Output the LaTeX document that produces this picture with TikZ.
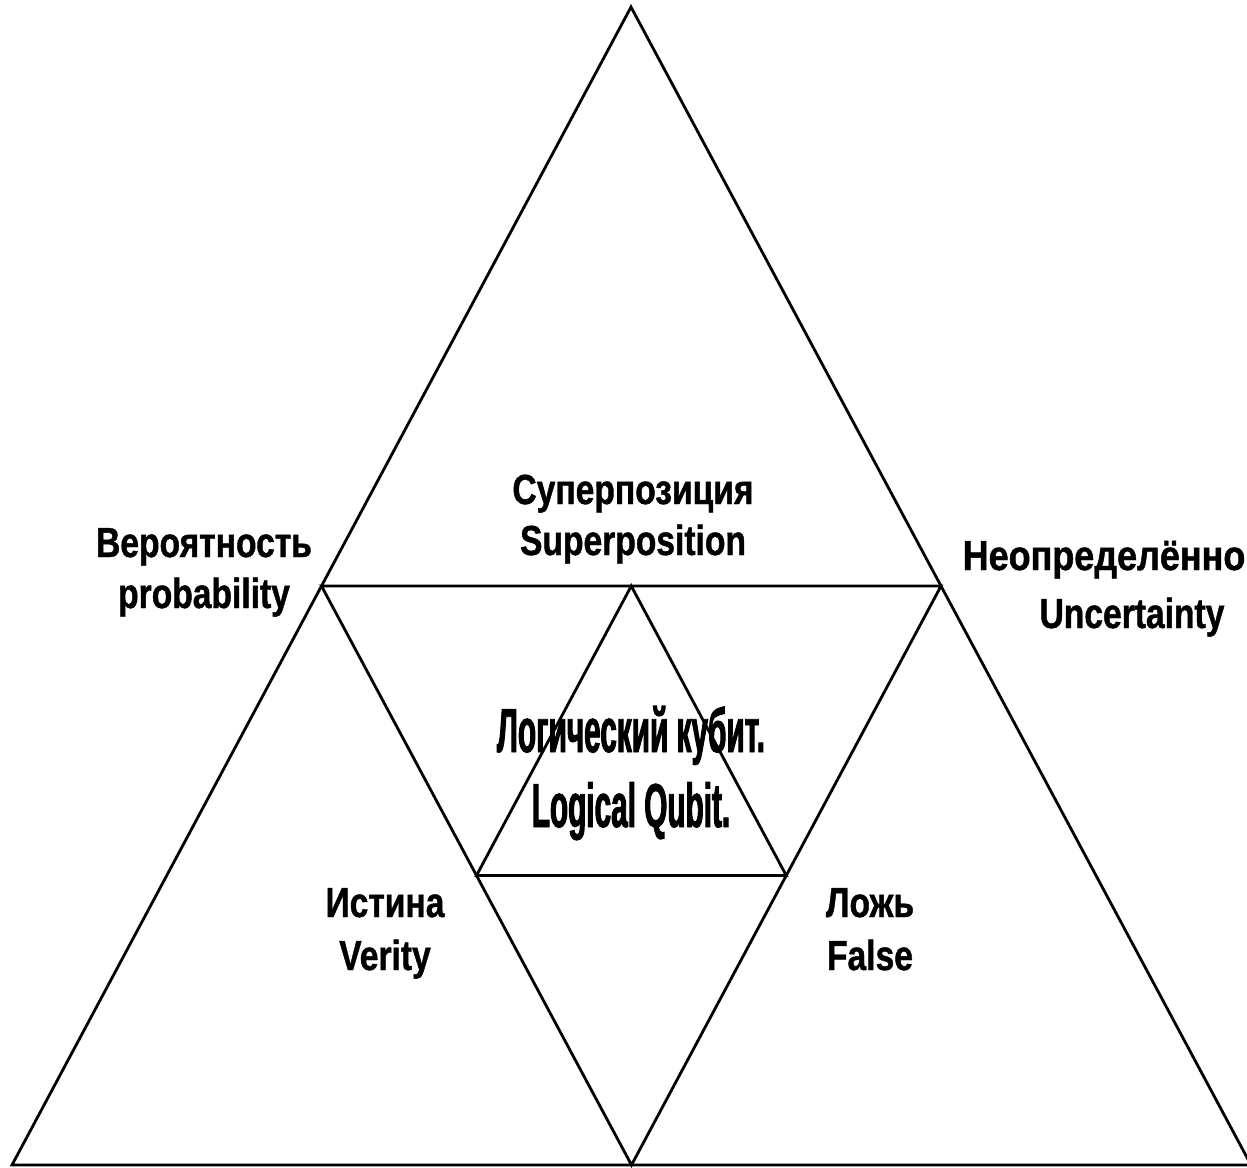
\documentclass[tikz,border=0pt]{standalone}
\usepackage{fontspec}
\setmainfont{Liberation Sans}[FakeStretch=0.8,FakeBold=1]
\newfontfamily\condfont{Liberation Sans}[FakeStretch=0.48,FakeBold=1.5]
\usetikzlibrary{calc}

\begin{document}
\begin{tikzpicture}[x=1pt,y=-1pt,line width=2.8pt,
  lbl/.style={font=\fontsize{42}{51}\selectfont\bfseries,align=center,inner sep=0pt,anchor=base},
  lblline/.style={font=\fontsize{42}{51}\selectfont\bfseries,inner sep=0pt,anchor=base}]
  \useasboundingbox (0,0) rectangle (1247,1167);
  % outer triangle
  \coordinate (top) at (631,7);
  \coordinate (bl) at (12,1165);
  \coordinate (br) at (1251,1165);
  \draw (top) -- (bl) -- (br) -- cycle;
  % middle (inverted) triangle
  \coordinate (ml) at ($(top)!0.5!(bl)$);
  \coordinate (mr) at ($(top)!0.5!(br)$);
  \coordinate (mb) at ($(bl)!0.5!(br)$);
  \draw (ml) -- (mr) -- (mb) -- cycle;
  % inner triangle
  \coordinate (it) at ($(ml)!0.5!(mr)$);
  \coordinate (il) at ($(ml)!0.5!(mb)$);
  \coordinate (ir) at ($(mr)!0.5!(mb)$);
  \draw (it) -- (il) -- (ir) -- cycle;
  % labels (base = last line)
  \node[lbl] (superpos) at (633,555) {Суперпозиция\\Superposition};
  \node[lbl] (prob) at (204,608) {Вероятность\\probability};
  \node[lblline,xscale=1.07] (uncru) at (1104,570) {Неопределённо};
  \node[lblline] (uncen) at (1132,628) {Uncertainty};
  \node[lbl,font=\fontsize{42}{53}\selectfont\bfseries] (verity) at (385,970) {Истина\\Verity};
  \node[lbl,font=\fontsize{42}{53}\selectfont\bfseries] (false) at (870,970) {Ложь\\False};
  \node[lbl,font=\fontsize{62}{75}\selectfont\condfont\bfseries] (qubit) at (631,827)
    {Логический кубит.\\Logical Qubit.};
\end{tikzpicture}
\end{document}
